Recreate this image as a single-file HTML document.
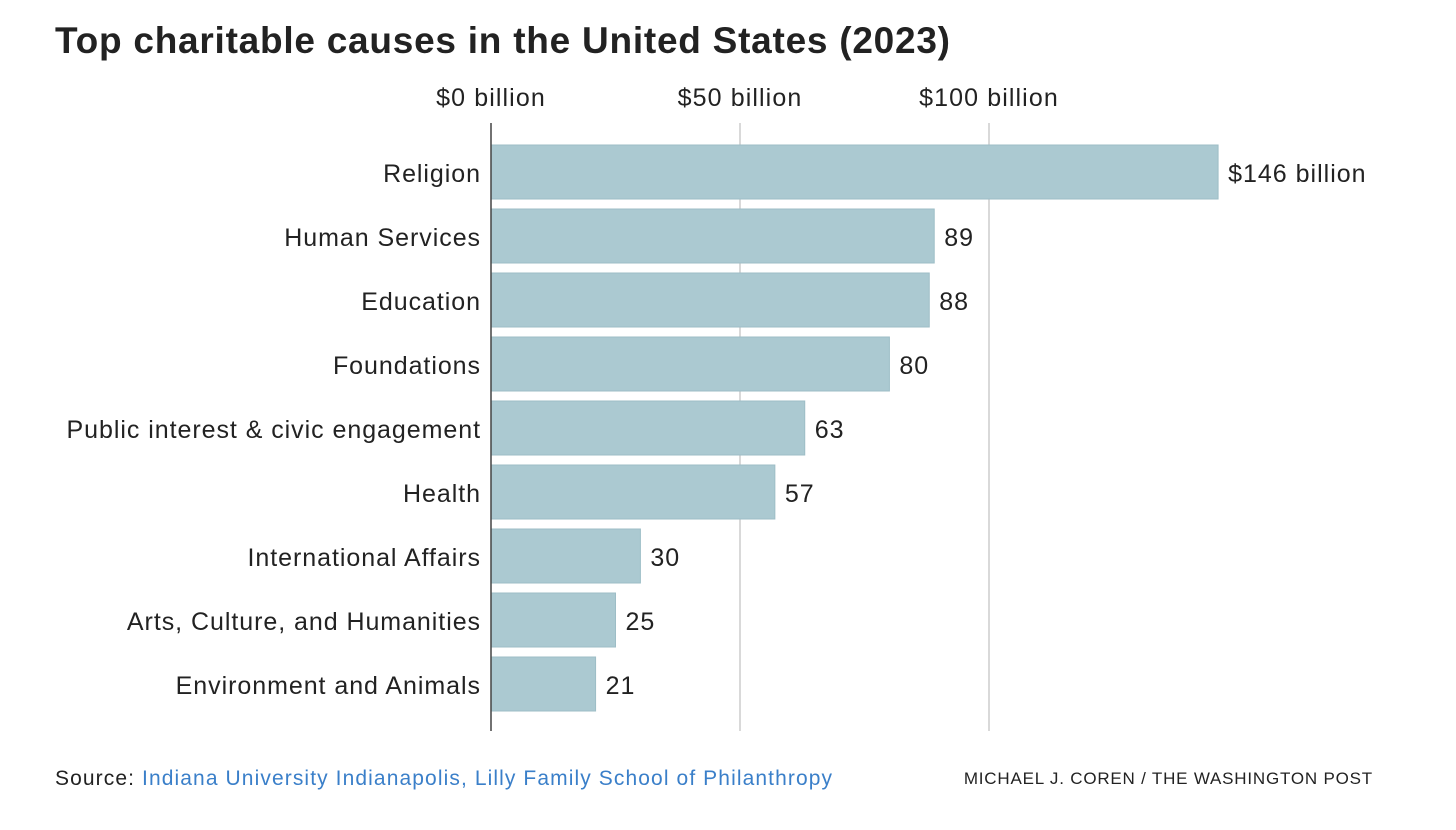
<!DOCTYPE html>
<html><head><meta charset="utf-8">
<style>
body{margin:0;background:#fff;width:1456px;height:830px;overflow:hidden;font-family:"Liberation Sans",sans-serif;}
svg{position:absolute;left:0;top:0}
</style></head><body>
<svg id="chart" width="1456" height="830">
<text x="55" y="53" font-size="37" font-weight="bold" fill="#222" textLength="895" lengthAdjust="spacing">Top charitable causes in the United States (2023)</text>
</svg>
<script>
const categories=["Religion","Human Services","Education","Foundations","Public interest & civic engagement","Health","International Affairs","Arts, Culture, and Humanities","Environment and Animals"];
const values=[146,89,88,80,63,57,30,25,21];
const valueLabels=["$146 billion","89","88","80","63","57","30","25","21"];
const ticks=[0,50,100];
const tickLabels=["$0 billion","$50 billion","$100 billion"];
const NS="http://www.w3.org/2000/svg";
const svg=document.getElementById('chart');
const x=v=>491+v*4.98;
const y=i=>145+i*64;
const bh=54;
function mk(t,a){const e=document.createElementNS(NS,t);for(const k in a)e.setAttribute(k,a[k]);svg.appendChild(e);return e;}
ticks.forEach((t,i)=>{
 if(t>0){const g=mk('line',{x1:x(t),x2:x(t),y1:123,y2:731,stroke:'#d9d9d9','stroke-width':2});
 
 }
 const l=mk('text',{x:x(t),y:106,'text-anchor':'middle','font-size':25,'letter-spacing':1.1,fill:'#222'});
 l.textContent=tickLabels[i];
 
 
});
categories.forEach((c,i)=>{
 const r=mk('rect',{x:x(0),y:y(i),width:x(values[i])-x(0),height:bh,fill:'#abc9d1',stroke:'#9dbdc6','stroke-width':1});
 
 
 const l=mk('text',{x:481,y:y(i)+bh/2+10,'text-anchor':'end','font-size':25,'letter-spacing':0.95,fill:'#222'});
 l.textContent=c;
 
 
 const v=mk('text',{x:x(values[i])+10,y:y(i)+bh/2+10,'font-size':25,'letter-spacing':1,fill:'#222'});
 v.textContent=valueLabels[i];
 
 
});
const ax=mk('line',{x1:491,x2:491,y1:123,y2:731,stroke:'#444','stroke-width':1.5});


const s=mk('text',{x:55,y:785,'font-size':21,'letter-spacing':1.1,fill:'#222'});


s.innerHTML='Source: <tspan fill="#3a7fc9">Indiana University Indianapolis, Lilly Family School of Philanthropy</tspan>';
const cr=mk('text',{x:1373,y:784,'text-anchor':'end','font-size':17,'letter-spacing':0.8,fill:'#222'});
cr.textContent='MICHAEL J. COREN / THE WASHINGTON POST';


</script>
</body></html>
